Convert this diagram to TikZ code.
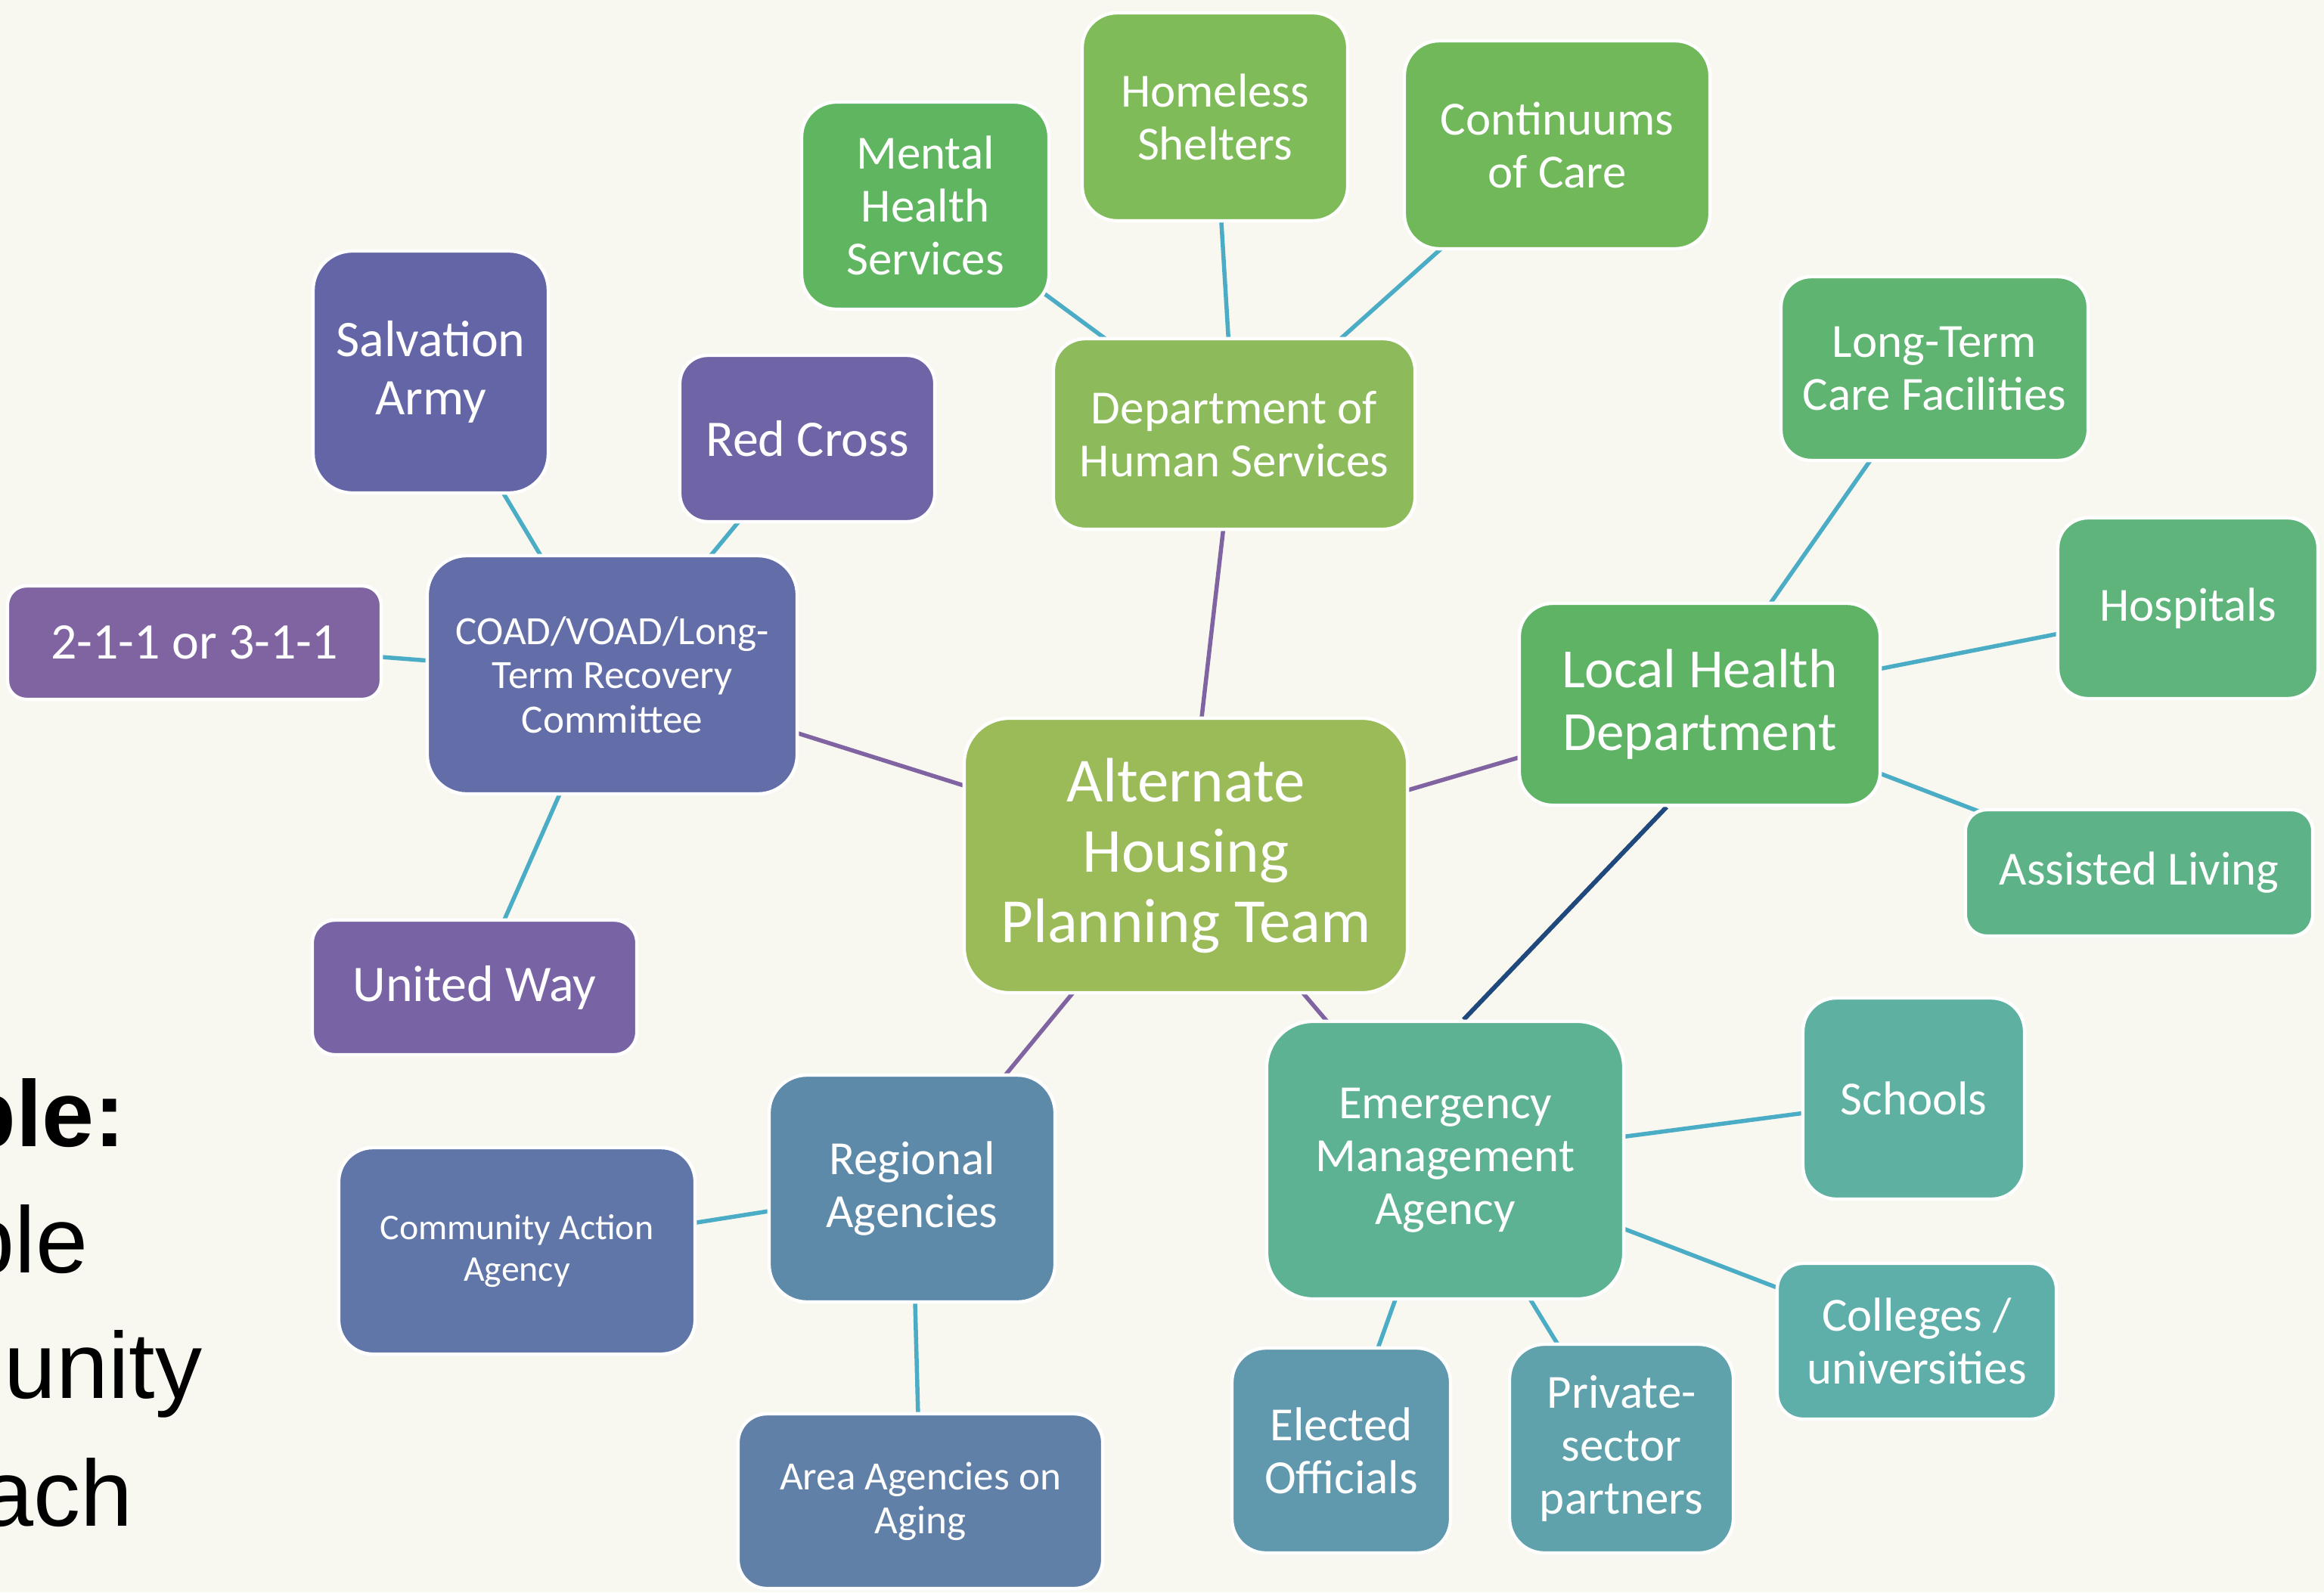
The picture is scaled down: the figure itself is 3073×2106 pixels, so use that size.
\documentclass[tikz,border=0pt]{standalone}
\usepackage{fontspec}
\setmainfont{Carlito}
\newfontfamily\arialfont{Liberation Sans}
\usetikzlibrary{calc}
\pgfdeclarelayer{bg}
\pgfsetlayers{bg,main}
\definecolor{bgc}{HTML}{F8F7F0}
\definecolor{lcyan}{HTML}{4BACC6}
\definecolor{lpurple}{HTML}{8064A2}
\definecolor{lnavy}{HTML}{1F497D}
\definecolor{cSal}{HTML}{6465A7}
\definecolor{cRed}{HTML}{6E64A6}
\definecolor{cTwo}{HTML}{8064A2}
\definecolor{cCoad}{HTML}{636EA8}
\definecolor{cUw}{HTML}{7864A4}
\definecolor{cCaa}{HTML}{6076A8}
\definecolor{cReg}{HTML}{5E8AAA}
\definecolor{cAaa}{HTML}{6080A8}
\definecolor{cAhpt}{HTML}{9BBB59}
\definecolor{cDhs}{HTML}{8DBA5A}
\definecolor{cMhs}{HTML}{60B660}
\definecolor{cHs}{HTML}{80BB5A}
\definecolor{cCoc}{HTML}{70B85A}
\definecolor{cLtc}{HTML}{5EB470}
\definecolor{cHosp}{HTML}{5EB47A}
\definecolor{cLhd}{HTML}{5EB464}
\definecolor{cAl}{HTML}{5EB288}
\definecolor{cEma}{HTML}{5EB294}
\definecolor{cSch}{HTML}{5EB0A0}
\definecolor{cCol}{HTML}{5EAEAA}
\definecolor{cElec}{HTML}{6098AE}
\definecolor{cPriv}{HTML}{60A2AC}
\tikzset{
  box/.style={rectangle, draw=white, line width=0.045cm, text=white, align=center, inner sep=0pt},
  sz/.style n args={3}{minimum width=#1cm, minimum height=#2cm, rounded corners=#3cm},
  fA/.style={font=\fontsize{17.9}{19.9}\selectfont},
  fB/.style={font=\fontsize{19.3}{21.9}\selectfont},
  fL/.style={font=\fontsize{20.8}{23.6}\selectfont},
  fC/.style={font=\fontsize{23.6}{26.5}\selectfont},
  fS/.style={font=\fontsize{15.1}{16.6}\selectfont},
  fT/.style={font=\fontsize{13.6}{15.6}\selectfont},
  cyanline/.style={draw=lcyan, line width=0.055cm},
  purpline/.style={draw=lpurple, line width=0.055cm},
  navyline/.style={draw=lnavy, line width=0.06cm},
  bigtext/.style={font=\arialfont\fontsize{35.3}{42}\selectfont, anchor=base east, inner sep=0pt, text=black},
}
\begin{document}
\begin{tikzpicture}[x=0.01cm, y=-0.01cm]
\useasboundingbox (0,0) rectangle (3073,2106);

% boxes
\node[box,fB,fill=cSal,sz={3.11}{3.20}{0.52}] (sal) at (569.5,492) {Salvation\\Army};
\node[box,fB,fill=cRed,sz={3.37}{2.20}{0.37}] (red) at (1067.5,580) {Red Cross};
\node[box,fS,fill=cCoad,sz={4.89}{3.15}{0.52}] (coad) at (809.5,892.5) {COAD/VOAD/Long-\\Term Recovery\\Committee};
\node[box,fB,fill=cTwo,sz={4.94}{1.50}{0.25}] (two) at (257,850) {2-1-1 or 3-1-1};
\node[box,fB,fill=cUw,sz={4.29}{1.78}{0.30}] (uw) at (627.5,1306) {United Way};
\node[box,fT,fill=cCaa,sz={4.71}{2.73}{0.45}] (caa) at (683.5,1654.5) {Community Action\\Agency};
\node[box,fA,fill=cReg,sz={3.78}{3.00}{0.50}] (reg) at (1206,1572) {Regional\\Agencies};
\node[box,fS,fill=cAaa,sz={4.82}{2.31}{0.38}] (aaa) at (1217,1985.5) {Area Agencies on\\Aging};
\node[box,fC,fill=cAhpt,sz={5.86}{3.63}{0.60}] (ahpt) at (1568,1131.5) {Alternate\\Housing\\Planning Team};
\node[box,fA,fill=cDhs,sz={4.78}{2.52}{0.42}] (dhs) at (1632,574) {Department of\\Human Services};
\node[box,fA,fill=cMhs,sz={3.27}{2.74}{0.46}] (mhs) at (1223.5,272) {Mental\\Health\\Services};
\node[box,fA,fill=cHs,sz={3.51}{2.75}{0.46}] (hs) at (1606.5,154.5) {Homeless\\Shelters};
\node[box,fA,fill=cCoc,sz={4.04}{2.75}{0.46}] (coc) at (2059,191.5) {Continuums\\of Care};
\node[box,fA,fill=cLtc,sz={4.06}{2.43}{0.40}] (ltc) at (2558,487.5) {Long-Term\\Care Facilities};
\node[box,fA,fill=cHosp,sz={3.44}{2.39}{0.40}] (hosp) at (2893,804.5) {Hospitals};
\node[box,fL,fill=cLhd,sz={4.77}{2.67}{0.44}] (lhd) at (2247.5,931.5) {Local Health\\Department};
\node[box,fA,fill=cAl,sz={4.59}{1.67}{0.28}] (al) at (2828.5,1154.5) {Assisted Living};
\node[box,fA,fill=cEma,sz={4.72}{3.67}{0.61}] (ema) at (1911,1534.5) {Emergency\\Management\\Agency};
\node[box,fA,fill=cSch,sz={2.93}{2.66}{0.44}] (sch) at (2530.5,1453) {Schools};
\node[box,fA,fill=cCol,sz={3.69}{2.06}{0.34}] (col) at (2534.5,1774) {Colleges /\\universities};
\node[box,fA,fill=cElec,sz={2.89}{2.71}{0.45}] (elec) at (1773.5,1918.5) {Elected\\Officials};
\node[box,fA,fill=cPriv,sz={2.96}{2.76}{0.46}] (priv) at (2144,1916) {Private-\\sector\\partners};

% connectors behind the boxes
\begin{pgfonlayer}{bg}
\fill[bgc] (0,0) rectangle (3073,2106);
\draw[cyanline] (sal.center) -- (coad.center);
\draw[cyanline] (red.center) -- (coad.center);
\draw[cyanline] (two.center) -- (coad.center);
\draw[cyanline] (uw.center) -- (coad.center);
\draw[cyanline] (mhs.center) -- (dhs.center);
\draw[cyanline] (hs.center) -- (dhs.center);
\draw[cyanline] (coc.center) -- (dhs.center);
\draw[cyanline] (ltc.center) -- (lhd.center);
\draw[cyanline] (hosp.center) -- (lhd.center);
\draw[cyanline] (al.center) -- (lhd.center);
\draw[cyanline] (ema.center) -- (sch.center);
\draw[cyanline] (ema.center) -- (col.center);
\draw[cyanline] (ema.center) -- (elec.center);
\draw[cyanline] (ema.center) -- (priv.center);
\draw[cyanline] (reg.center) -- (caa.center);
\draw[cyanline] (reg.center) -- (aaa.center);
\draw[purpline] (coad.center) -- (ahpt.center);
\draw[purpline] (dhs.center) -- (ahpt.center);
\draw[purpline] (lhd.center) -- (ahpt.center);
\draw[purpline] (ahpt.center) -- (ema.center);
\draw[purpline] (ahpt.center) -- (reg.center);
\draw[navyline] ($(lhd.south west)!0.409!(lhd.south east)$) -- ($(ema.north west)!0.551!(ema.north east)$);
\end{pgfonlayer}

% cut-off slide text at the left
\begin{scope}
\clip (0,0) rectangle (3073,2106);
\node[bigtext] (w1) at (167,1516) {\bfseries ble:};
\node[bigtext] (w2) at (117,1683) {ble};
\node[bigtext] (w3) at (268,1849) {unity};
\node[bigtext] (w4) at (176,2018) {ach};
\end{scope}
\end{tikzpicture}
\end{document}
